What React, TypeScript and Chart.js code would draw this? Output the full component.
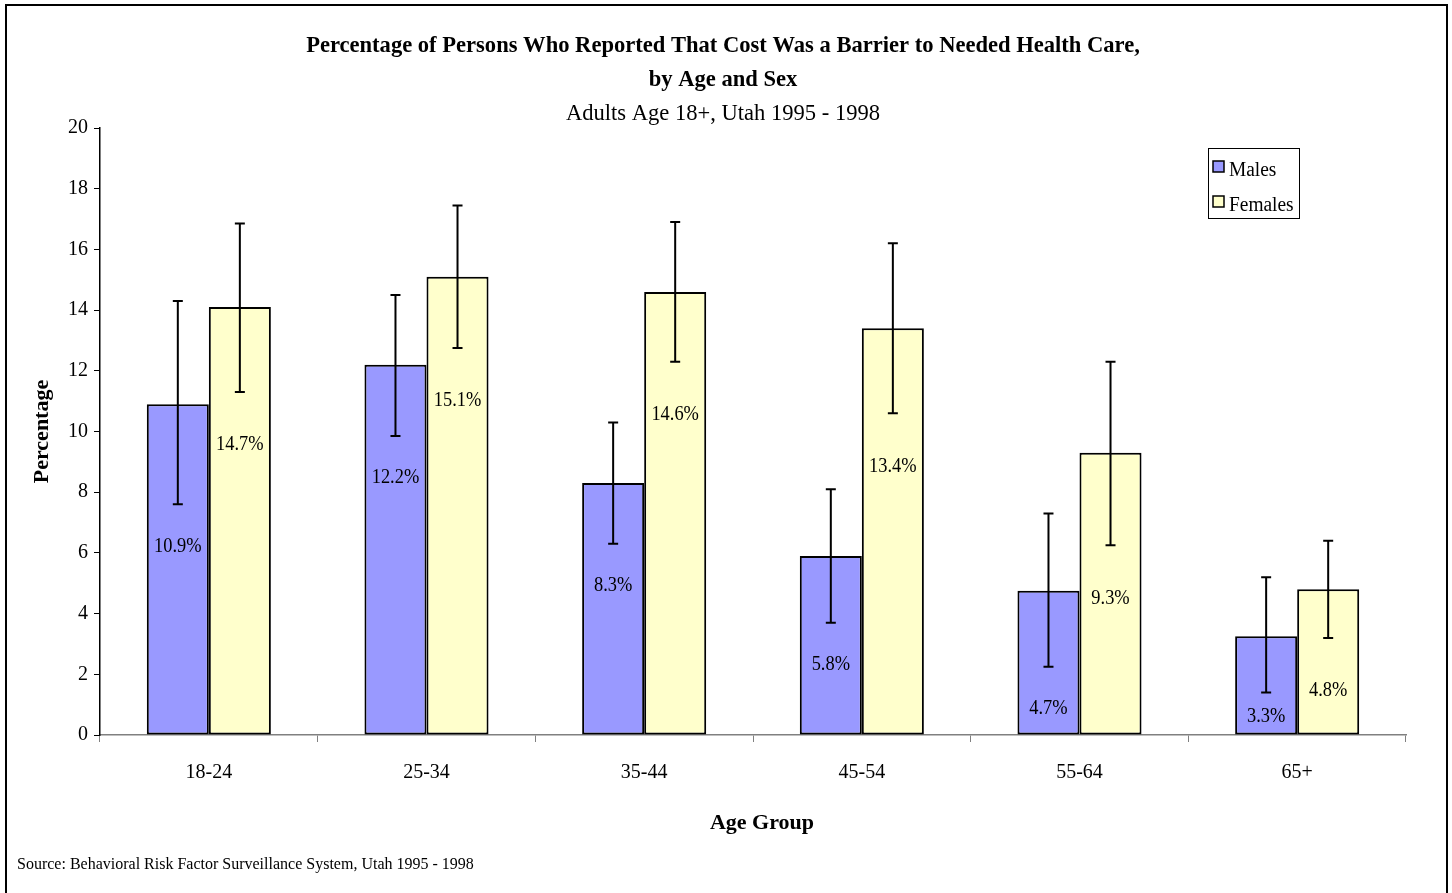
import { useEffect, useRef } from 'react';
import { Chart, registerables } from 'chart.js';

Chart.register(...registerables);

const FONT = '"Liberation Serif", "Times New Roman", serif';

const categories = ['18-24', '25-34', '35-44', '45-54', '55-64', '65+'];
const males = [10.9, 12.2, 8.3, 5.9, 4.75, 3.25];
const females = [14.1, 15.1, 14.6, 13.4, 9.3, 4.8];
const malesLow = [7.6, 9.85, 6.3, 3.7, 2.25, 1.4];
const malesHigh = [14.3, 14.5, 10.3, 8.1, 7.3, 5.2];
const femalesLow = [11.3, 12.75, 12.3, 10.6, 6.25, 3.2];
const femalesHigh = [16.85, 17.45, 16.9, 16.2, 12.3, 6.4];
const maleLabels = ['10.9%', '12.2%', '8.3%', '5.8%', '4.7%', '3.3%'];
const femaleLabels = ['14.7%', '15.1%', '14.6%', '13.4%', '9.3%', '4.8%'];
const yTicks = [0, 2, 4, 6, 8, 10, 12, 14, 16, 18, 20];

const titleLines = [
  'Percentage of Persons Who Reported That Cost Was a Barrier to Needed Health Care,',
  'by Age and Sex',
];
const subtitle = 'Adults Age 18+, Utah 1995 - 1998';
const xTitle = 'Age Group';
const source = 'Source: Behavioral Risk Factor Surveillance System, Utah 1995 - 1998';

const MALE_COLOR = '#9999FF';
const FEMALE_COLOR = '#FFFFCC';

function drawScaledText(ctx: CanvasRenderingContext2D, text: string, x: number, y: number, sx: number, align: CanvasTextAlign) {
  ctx.save();
  ctx.translate(x, y);
  ctx.scale(sx, 1);
  ctx.textAlign = align;
  ctx.fillText(text, 0, 0);
  ctx.restore();
}

const decorPlugin = {
  id: 'decor',
  afterDraw(chart: any) {
    const ctx: CanvasRenderingContext2D = chart.ctx;
    ctx.save();
    // frame
    ctx.strokeStyle = '#000';
    ctx.lineWidth = 2;
    ctx.strokeRect(6, 5, 1441, 900);
    // titles
    ctx.fillStyle = '#000';
    ctx.textBaseline = 'middle';
    ctx.font = `bold 24px ${FONT}`;
    const cx = 723;
    drawScaledText(ctx, titleLines[0], cx, 46, 0.94, 'center');
    drawScaledText(ctx, titleLines[1], cx, 80, 0.94, 'center');
    ctx.font = `24px ${FONT}`;
    drawScaledText(ctx, subtitle, cx, 114, 0.94, 'center');
    ctx.font = `bold 22px ${FONT}`;
    drawScaledText(ctx, xTitle, 762, 823, 1.0, 'center');
    ctx.font = `16px ${FONT}`;
    drawScaledText(ctx, source, 17, 865, 1.0, 'left');
    // legend
    const lx = 1208, ly = 148, lw = 91, lh = 70;
    ctx.fillStyle = '#fff';
    ctx.fillRect(lx, ly, lw, lh);
    ctx.strokeStyle = '#000';
    ctx.lineWidth = 1;
    ctx.strokeRect(lx + 0.5, ly + 0.5, lw, lh);
    const items = [
      { label: 'Males', color: MALE_COLOR, y: 171 },
      { label: 'Females', color: FEMALE_COLOR, y: 206 },
    ];
    ctx.font = `20px ${FONT}`;
    for (const it of items) {
      ctx.fillStyle = it.color;
      ctx.fillRect(lx + 5, it.y - 10, 11, 11);
      ctx.strokeStyle = '#000';
      ctx.lineWidth = 1.5;
      ctx.strokeRect(lx + 5, it.y - 10, 11, 11);
      ctx.fillStyle = '#000';
      drawScaledText(ctx, it.label, lx + 21, it.y, 0.97, 'left');
    }
    ctx.restore();
  },
  afterDatasetsDraw(chart: any) {
    const ctx: CanvasRenderingContext2D = chart.ctx;
    const y = chart.scales.y;
    const lows = [malesLow, femalesLow];
    const highs = [malesHigh, femalesHigh];
    const labels = [maleLabels, femaleLabels];
    const gaps = [42, 53];
    ctx.save();
    for (let d = 0; d < 2; d++) {
      const meta = chart.getDatasetMeta(d);
      meta.data.forEach((bar: any, i: number) => {
        const x = bar.x;
        const yl = y.getPixelForValue(lows[d][i]);
        const yh = y.getPixelForValue(highs[d][i]);
        ctx.strokeStyle = '#000';
        ctx.lineWidth = 2;
        ctx.beginPath();
        ctx.moveTo(x, yh);
        ctx.lineTo(x, yl);
        ctx.moveTo(x - 5, yh);
        ctx.lineTo(x + 5, yh);
        ctx.moveTo(x - 5, yl);
        ctx.lineTo(x + 5, yl);
        ctx.stroke();
        // data label
        const base = y.getPixelForValue(0);
        const ly = Math.min(yl + gaps[d], base - 18);
        ctx.fillStyle = '#000';
        ctx.font = `20px ${FONT}`;
        ctx.textBaseline = 'middle';
        drawScaledText(ctx, labels[d][i], x, ly, 0.92, 'center');
      });
    }
    ctx.restore();
  },
};

export default function App() {
  const ref = useRef<HTMLCanvasElement>(null);
  useEffect(() => {
    document.body.style.margin = '0';
    const chart = new Chart(ref.current!, {
      type: 'bar',
      data: {
        labels: categories,
        datasets: [
          {
            label: 'Males',
            data: males,
            backgroundColor: MALE_COLOR,
            borderColor: '#000',
            borderWidth: 2,
            borderSkipped: false,
            categoryPercentage: 0.57,
            barPercentage: 1,
          },
          {
            label: 'Females',
            data: females,
            backgroundColor: FEMALE_COLOR,
            borderColor: '#000',
            borderWidth: 2,
            borderSkipped: false,
            categoryPercentage: 0.57,
            barPercentage: 1,
          },
        ],
      },
      options: {
        responsive: false,
        animation: false,
        layout: { padding: { left: 8, right: 46, top: 128, bottom: 48 } },
        plugins: {
          legend: { display: false },
          title: { display: false },
          tooltip: { enabled: false },
        },
        scales: {
          x: {
            grid: {
              display: true,
              drawOnChartArea: false,
              drawTicks: true,
              tickLength: 7,
              color: '#808080',
              offset: true,
            },
            border: { color: '#808080', width: 1.5 },
            ticks: { font: { family: FONT, size: 20 }, color: '#000', padding: 19 },
            title: { display: false },
            afterFit: (s: any) => {
              s.height = 110;
            },
          },
          y: {
            min: 0,
            max: 20,
            afterBuildTicks: (s: any) => {
              s.ticks = yTicks.map((v) => ({ value: v }));
            },
            grid: {
              display: true,
              drawOnChartArea: false,
              drawTicks: true,
              tickLength: 6,
              color: '#000',
            },
            border: { color: '#000', width: 1.5 },
            ticks: { font: { family: FONT, size: 20 }, color: '#000', padding: 6 },
            title: {
              display: true,
              text: 'Percentage',
              font: { family: FONT, size: 22, weight: 'bold' },
              color: '#000',
              padding: { top: 21, bottom: 0 },
            },
            afterFit: (s: any) => {
              s.width = 92;
            },
          },
        },
      },
      plugins: [decorPlugin],
    } as any);
    return () => chart.destroy();
  }, []);
  return (
    <div style={{ width: 1452, height: 893, overflow: 'hidden' }}>
      <canvas ref={ref} width={1452} height={893} style={{ display: 'block' }} />
    </div>
  );
}
